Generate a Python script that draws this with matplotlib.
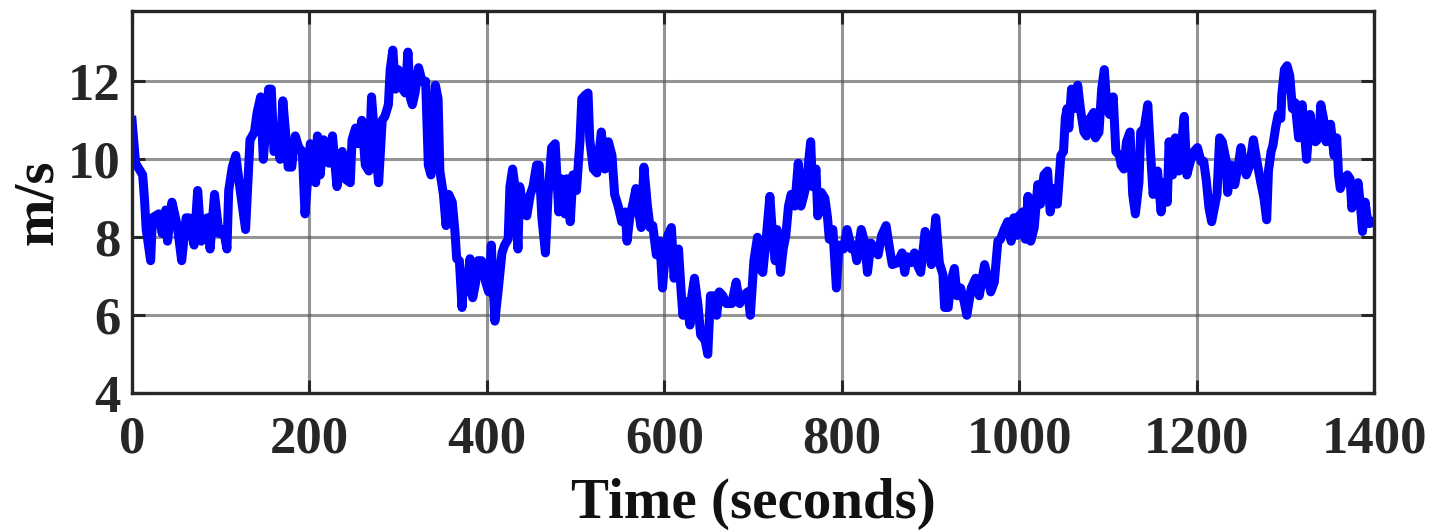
import numpy as np
import matplotlib.pyplot as plt

# wind speed trace (time in s, speed in m/s)
t = [0, 4, 12, 14, 16, 21, 23, 30, 34, 38, 40, 45, 51, 56, 61, 64, 70, 74, 78, 85, 88, 93,
     98, 103, 107, 109, 113, 117, 122, 128, 133, 138, 141, 145, 148, 150, 154, 157, 160, 164,
     167, 170, 173, 176, 180, 184, 188, 192, 195, 201, 207, 209, 212, 216, 222, 226, 231,
     237, 240, 246, 248, 252, 255, 259, 263, 267, 270, 274, 278, 282, 285, 289, 291, 294,
     297, 300, 305, 308, 311, 314, 316, 319, 323, 327, 331, 334, 337, 342, 345, 347, 351,
     354, 357, 361, 364, 366, 369, 372, 374, 377, 381, 384, 387, 390, 394, 398, 402, 405,
     409, 413, 417, 420, 424, 426, 429, 432, 435, 437, 441, 445, 449, 452, 456, 459, 462,
     466, 469, 473, 477, 481, 484, 488, 490, 494, 497, 501, 505, 507, 511, 514, 516, 520,
     524, 529, 533, 537, 541, 544, 548, 552, 556, 558, 561, 565, 568, 571, 574, 577, 581,
     584, 587, 591, 595, 598, 601, 604, 608, 611, 616, 619, 621, 625, 629, 631, 634, 638,
     641, 646, 649, 652, 656, 659, 662, 666, 670, 676, 681, 685, 689, 694, 697, 701, 705,
     708, 711, 715, 719, 722, 725, 727, 731, 734, 737, 740, 743, 747, 751, 754, 757, 760,
     765, 767, 771, 773, 777, 781, 784, 786, 790, 794, 797, 802, 806, 811, 814, 817, 822,
     826, 829, 833, 837, 841, 845, 850, 854, 857, 863, 868, 871, 874, 878, 882, 886, 889,
     894, 898, 901, 906, 910, 914, 916, 920, 923, 927, 930, 934, 938, 941, 946, 951, 955,
     961, 964, 968, 972, 976, 979, 983, 987, 991, 994, 998, 1000, 1004, 1007, 1010, 1013,
     1017, 1021, 1024, 1028, 1032, 1035, 1039, 1043, 1047, 1050, 1052, 1054, 1056, 1059,
     1062, 1066, 1069, 1073, 1076, 1080, 1084, 1086, 1090, 1093, 1096, 1099, 1102, 1106,
     1109, 1113, 1115, 1118, 1121, 1125, 1128, 1131, 1135, 1137, 1141, 1145, 1148, 1151,
     1156, 1160, 1163, 1167, 1169, 1173, 1176, 1180, 1184, 1186, 1189, 1193, 1197, 1201,
     1205, 1208, 1211, 1214, 1217, 1220, 1223, 1226, 1229, 1233, 1235, 1239, 1243, 1247,
     1250, 1253, 1256, 1260, 1264, 1268, 1272, 1276, 1279, 1281, 1284, 1286, 1289, 1292,
     1295, 1296, 1299, 1302, 1305, 1308, 1311, 1315, 1319, 1324, 1328, 1330, 1334, 1338,
     1340, 1343, 1346, 1351, 1355, 1358, 1360, 1362, 1366, 1370, 1373, 1375, 1378, 1382,
     1385, 1387, 1390, 1392, 1395, 1399]
speed = [11.0, 9.9, 9.6, 9.0, 8.2, 7.4, 8.5, 8.6, 8.1, 8.7, 7.9, 8.9, 8.3, 7.4, 8.5, 8.5,
         7.8, 9.2, 7.9, 8.5, 7.7, 9.1, 8.1, 8.2, 7.7, 9.2, 9.8, 10.1, 9.2, 8.2, 10.5, 10.7,
         11.2, 11.6, 10.0, 10.6, 11.8, 11.8, 10.2, 10.4, 10.0, 11.5, 10.7, 9.8, 9.8, 10.6,
         10.3, 10.2, 8.6, 10.4, 9.4, 10.6, 9.6, 10.5, 9.9, 10.6, 9.3,
         10.2, 9.5, 9.4, 10.5, 10.8, 10.4, 11.0, 9.85, 9.7, 11.6, 10.4, 9.4, 11.0, 11.1,
         11.4, 12.3, 12.8, 11.8, 12.3, 11.8, 11.7, 12.75, 11.55, 11.4, 11.7, 12.35, 12.0,
         12.0, 9.85, 9.6, 11.9, 11.55, 9.7, 9.1, 8.3, 9.1, 8.9, 8.15, 7.45, 7.4, 6.2, 7.0,
         6.6, 7.45, 6.45, 6.8, 7.4, 7.4, 6.9, 6.6, 7.8, 5.85, 6.7, 7.6, 7.8, 7.95, 9.3, 9.75,
         9.25, 7.7, 9.3, 8.8, 8.55, 9.1, 9.3, 9.85, 9.85, 8.5, 7.6, 9.1, 10.3, 10.4, 8.65,
         9.5, 8.6, 9.5, 8.4, 9.6, 9.2, 10.5, 11.55, 11.65, 11.7, 10.5, 9.75, 9.65, 10.7,
         9.75, 10.45, 10.1, 9.1, 8.8, 8.4, 8.65, 7.9, 8.5, 8.9, 9.25, 8.65, 8.25, 9.8, 8.8,
         8.25, 8.3, 7.55, 7.9, 6.7, 7.55, 8.05, 8.25, 6.95, 7.7, 6.6, 6.0, 6.35, 5.75, 6.5,
         6.95, 6.25, 5.5, 5.35, 5.0, 6.5, 6.5, 6.0, 6.6, 6.5, 6.3, 6.3, 6.85, 6.3, 6.5, 6.6,
         6.0, 7.4, 8.0, 7.2, 7.1, 8.0, 9.05, 8.05, 7.4, 8.2, 7.1, 7.7, 8.05, 8.8, 9.1, 8.8,
         9.9, 8.8, 9.05, 9.35, 10.45, 9.3, 9.75, 8.55, 9.15, 9.0, 8.5, 7.95, 8.2, 6.7, 7.8,
         7.7, 8.2, 7.7, 7.8, 7.4, 8.2, 7.85, 7.1, 7.85, 7.7, 7.55, 8.05, 8.3, 7.7, 7.3, 7.35,
         7.6, 7.1, 7.5, 7.35, 7.6, 7.25, 7.1, 8.15, 7.9, 7.3, 8.5, 7.35, 7.05, 6.2, 6.2, 6.85,
         7.2, 6.5, 6.7, 6.35, 6.0, 6.7, 6.95, 6.5, 7.3, 7.0, 6.6, 6.85, 7.9, 7.95, 8.2, 8.4,
         7.9, 8.5, 8.05, 8.55, 8.65, 7.95, 9.05, 7.9, 8.25, 9.35, 8.85, 9.6, 9.7, 8.65, 9.25,
         8.85, 10.1, 10.2, 11.05, 11.3, 10.8, 11.8, 11.3, 11.9, 11.3, 10.7, 10.6, 11.05, 11.2,
         10.55, 10.7, 11.8, 12.3, 11.3, 11.15, 11.6, 10.2, 10.1, 9.85, 9.75, 10.45, 10.7,
         9.1, 8.6, 9.4, 10.7, 10.8, 11.4, 10.2, 9.1, 9.7, 8.65, 9.4, 8.9, 10.45, 9.6, 10.55,
         9.7, 10.6, 11.1, 9.6, 9.95, 10.2, 10.3, 9.95, 9.95, 9.45, 8.75, 8.4, 8.75, 9.1,
         10.55, 10.45, 10.0, 9.15, 9.85, 9.35, 9.85, 10.3, 9.85, 9.6, 9.85, 10.5, 9.95, 9.45,
         9.0, 8.45, 9.7, 10.2, 10.35, 10.8, 11.15, 11.05, 11.65, 12.3, 12.4, 12.15, 11.3,
         11.45, 10.55, 11.4, 10.0, 11.15, 10.8, 10.45, 10.55, 11.4, 11.05, 10.45, 10.9, 10.1,
         10.55, 9.6, 9.25, 9.5, 9.6, 9.5, 8.75, 9.0, 9.4, 8.75, 8.15, 8.9, 8.55, 8.35, 8.4]

xticks = [0, 200, 400, 600, 800, 1000, 1200, 1400]
yticks = [4, 6, 8, 10, 12]

plt.rcParams['font.family'] = 'Liberation Serif'
plt.rcParams['font.weight'] = 'bold'

fig = plt.figure(figsize=(14.35, 5.3), dpi=100)
ax = fig.add_axes([0.092, 0.258, 0.8655, 0.721])
ax.plot(t, speed, color='#0000ff', linewidth=6.5, solid_joinstyle='round')

ax.set_xlim(0, 1400)
ax.set_ylim(4, 13.8)
ax.set_xticks(xticks)
ax.set_yticks(yticks)
ax.grid(True, color='#4d4d4d', linewidth=2.2, alpha=0.6)
ax.set_axisbelow(True)
ax.tick_params(direction='in', length=9.5, width=2.2, labelsize=38,
               top=True, right=True, colors='#262626')
ax.tick_params(axis='x', pad=16)
ax.tick_params(axis='y', pad=8)
for s in ax.spines.values():
    s.set_linewidth(2.4)
    s.set_color('#262626')

ax.set_xlabel('Time (seconds)', fontsize=41, fontweight='bold', color='#111111', labelpad=10)
ax.set_ylabel('m/s', fontsize=41, fontweight='bold', color='#111111', labelpad=3)

fig.savefig('out.png', dpi=100)
